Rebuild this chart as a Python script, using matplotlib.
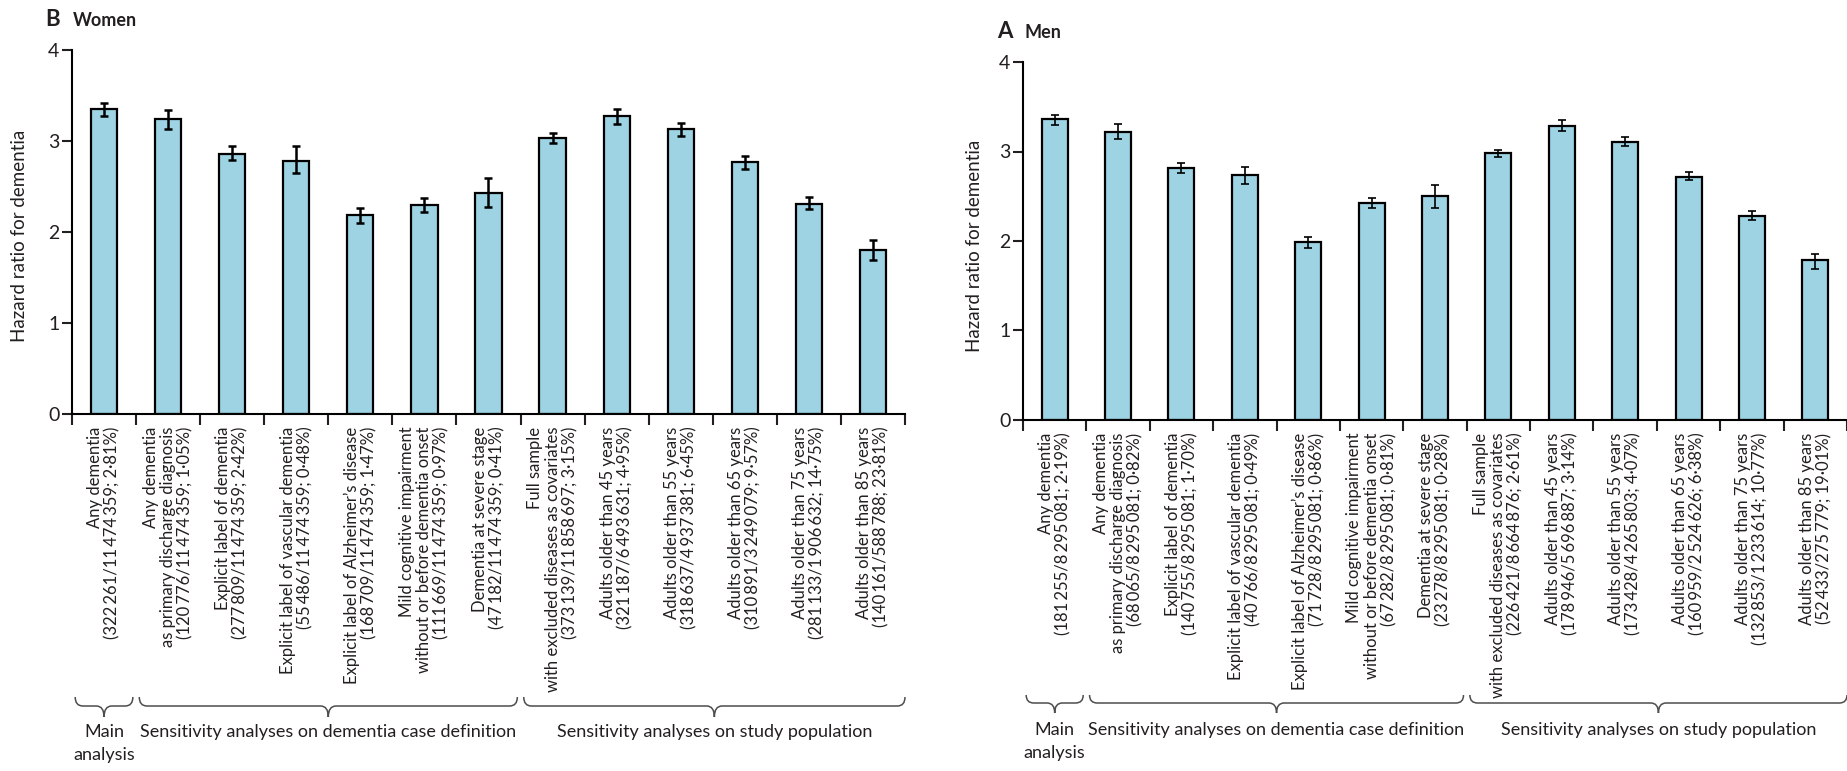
"""
Hazard ratios for dementia by case definition and study population,
women (B) and men (A), with 95% CI error bars and group braces.
"""

import numpy as np
import matplotlib.pyplot as plt
from matplotlib.path import Path
from matplotlib.patches import PathPatch
from matplotlib import transforms

W, H = 1847, 771  # output size in pixels (dpi 100)

TEXT = "#231f20"
BAR = "#9dd3e3"
FONT = ["Lato", "DejaVu Sans"]

plt.rcParams["font.family"] = FONT
plt.rcParams["text.color"] = TEXT
plt.rcParams["axes.labelcolor"] = TEXT
plt.rcParams["xtick.color"] = TEXT
plt.rcParams["ytick.color"] = TEXT

T = "\u2009"  # thin space used as thousands separator

women_labels = [
    f"Any dementia\n(322{T}261/11{T}474{T}359; 2·81%)",
    f"Any dementia\nas primary discharge diagnosis\n(120{T}776/11{T}474{T}359; 1·05%)",
    f"Explicit label of dementia\n(277{T}809/11{T}474{T}359; 2·42%)",
    f"Explicit label of vascular dementia\n(55{T}486/11{T}474{T}359; 0·48%)",
    f"Explicit label of Alzheimer’s disease\n(168{T}709/11{T}474{T}359; 1·47%)",
    f"Mild cognitive impairment\nwithout or before dementia onset\n(111{T}669/11{T}474{T}359; 0·97%)",
    f"Dementia at severe stage\n(47{T}182/11{T}474{T}359; 0·41%)",
    f"Full sample\nwith excluded diseases as covariates\n(373{T}139/11{T}858{T}697; 3·15%)",
    f"Adults older than 45 years\n(321{T}187/6{T}493{T}631; 4·95%)",
    f"Adults older than 55 years\n(318{T}637/4{T}937{T}381; 6·45%)",
    f"Adults older than 65 years\n(310{T}891/3{T}249{T}079; 9·57%)",
    f"Adults older than 75 years\n(281{T}133/1{T}906{T}632; 14·75%)",
    f"Adults older than 85 years\n(140{T}161/588{T}788; 23·81%)",
]
women_hr = [3.35, 3.24, 2.86, 2.78, 2.19, 2.30, 2.43, 3.03, 3.28, 3.13, 2.77, 2.31, 1.80]
women_lo = [3.28, 3.13, 2.79, 2.65, 2.10, 2.22, 2.27, 2.98, 3.19, 3.05, 2.69, 2.25, 1.69]
women_hi = [3.42, 3.34, 2.94, 2.94, 2.26, 2.37, 2.59, 3.09, 3.35, 3.20, 2.84, 2.39, 1.91]

men_labels = [
    f"Any dementia\n(181{T}255/8{T}295{T}081; 2·19%)",
    f"Any dementia\nas primary discharge diagnosis\n(68{T}065/8{T}295{T}081; 0·82%)",
    f"Explicit label of dementia\n(140{T}755/8{T}295{T}081; 1·70%)",
    f"Explicit label of vascular dementia\n(40{T}766/8{T}295{T}081; 0·49%)",
    f"Explicit label of Alzheimer’s disease\n(71{T}728/8{T}295{T}081; 0·86%)",
    f"Mild cognitive impairment\nwithout or before dementia onset\n(67{T}282/8{T}295{T}081; 0·81%)",
    f"Dementia at severe stage\n(23{T}278/8{T}295{T}081; 0·28%)",
    f"Full sample\nwith excluded diseases as covariates\n(226{T}421/8{T}664{T}876; 2·61%)",
    f"Adults older than 45 years\n(178{T}946/5{T}696{T}887; 3·14%)",
    f"Adults older than 55 years\n(173{T}428/4{T}265{T}803; 4·07%)",
    f"Adults older than 65 years\n(160{T}959/2{T}524{T}626; 6·38%)",
    f"Adults older than 75 years\n(132{T}853/1{T}233{T}614; 10·77%)",
    f"Adults older than 85 years\n(52{T}433/275{T}779; 19·01%)",
]
men_hr = [3.36, 3.22, 2.82, 2.74, 1.99, 2.43, 2.50, 2.98, 3.28, 3.11, 2.72, 2.28, 1.79]
men_lo = [3.30, 3.14, 2.76, 2.64, 1.92, 2.37, 2.37, 2.94, 3.23, 3.06, 2.68, 2.23, 1.69]
men_hi = [3.41, 3.31, 2.87, 2.83, 2.05, 2.48, 2.63, 3.02, 3.35, 3.16, 2.77, 2.33, 1.86]

# (first bar, last bar) index ranges for each group brace
groups = [
    ("Main\nanalysis", -0.45, 0.45),
    ("Sensitivity analyses on dementia case definition", 0.55, 6.45),
    ("Sensitivity analyses on study population", 6.55, 12.5),
]


def px_y(y):
    """Pixel row (from top) to figure fraction."""
    return 1 - y / H


def draw_brace(fig, ax, x0, x1, y_top, y_flat, y_tip, r=0.12):
    trans = transforms.blended_transform_factory(ax.transData, fig.transFigure)
    xm = (x0 + x1) / 2
    yt, yf, yp = px_y(y_top), px_y(y_flat), px_y(y_tip)
    verts = [
        (x0, yt), (x0, yf), (x0 + r, yf),
        (xm - r, yf), (xm, yf), (xm, yp),
        (xm, yf), (xm + r, yf),
        (x1 - r, yf), (x1, yf), (x1, yt),
    ]
    codes = [
        Path.MOVETO, Path.CURVE3, Path.CURVE3,
        Path.LINETO, Path.CURVE3, Path.CURVE3,
        Path.CURVE3, Path.CURVE3,
        Path.LINETO, Path.CURVE3, Path.CURVE3,
    ]
    patch = PathPatch(Path(verts, codes), transform=trans, fill=False,
                      edgecolor="#4d4d4d", linewidth=1.1, clip_on=False)
    fig.add_artist(patch)


def draw_panel(fig, rect, labels, hr, lo, hi, err_lw, brace_y):
    ax = fig.add_axes(rect)
    x = np.arange(len(hr))
    hr = np.asarray(hr)
    yerr = [hr - np.asarray(lo), np.asarray(hi) - hr]

    ax.bar(x, hr, width=0.41, color=BAR, edgecolor="black", linewidth=1.6, zorder=2)
    ax.errorbar(x, hr, yerr=yerr, fmt="none", ecolor="black",
                elinewidth=err_lw, capsize=3.2, capthick=err_lw, zorder=3)

    ax.set_xlim(-0.5, 12.5)
    ax.set_ylim(0, 4)
    ax.set_yticks([0, 1, 2, 3, 4])
    ax.tick_params(axis="y", labelsize=14, length=7, width=1.5, pad=2)

    # labels centred under bars, tick marks between them
    ax.set_xticks(x)
    ax.set_xticklabels(labels, rotation=90, ha="center", va="top",
                       multialignment="right", fontsize=12, linespacing=1.1)
    ax.tick_params(axis="x", which="major", length=0, pad=9)
    ax.set_xticks(np.arange(-0.5, 13, 1), minor=True)
    ax.tick_params(axis="x", which="minor", length=8, width=1.5)

    for side in ("top", "right"):
        ax.spines[side].set_visible(False)
    for side in ("left", "bottom"):
        ax.spines[side].set_linewidth(1.5)
    ax.spines["left"].set_bounds(0, 4)

    ax.set_ylabel("Hazard ratio for dementia", fontsize=13.5)

    y_top, y_flat, y_tip, y_text = brace_y
    trans = transforms.blended_transform_factory(ax.transData, fig.transFigure)
    for text, g0, g1 in groups:
        draw_brace(fig, ax, g0, g1, y_top, y_flat, y_tip)
        fig.text((g0 + g1) / 2, px_y(y_text), text, transform=trans,
                 ha="center", va="top", fontsize=13, linespacing=1.55)
    return ax


def main():
    fig = plt.figure(figsize=(W / 100, H / 100), dpi=100)

    # Women, left panel: spine at x=72 px, y from 50 to 414 px
    ax_w = draw_panel(fig, [72 / W, px_y(414), 833 / W, 364 / H],
                      women_labels, women_hr, women_lo, women_hi,
                      err_lw=1.8, brace_y=(697, 706, 717, 724))
    ax_w.yaxis.set_label_coords(-0.053, 0.49)

    # Men, right panel: spine at x=1023 px, y from 62 to 420 px
    ax_m = draw_panel(fig, [1023 / W, px_y(420), 824 / W, 358 / H],
                      men_labels, men_hr, men_lo, men_hi,
                      err_lw=1.2, brace_y=(695, 703, 713, 722))
    ax_m.yaxis.set_label_coords(-0.049, 0.485)

    fig.text(45 / W, px_y(26), "B", fontsize=16, fontweight="bold")
    fig.text(73 / W, px_y(26), "Women", fontsize=13, fontweight="bold")
    fig.text(997 / W, px_y(38), "A", fontsize=16, fontweight="bold")
    fig.text(1025 / W, px_y(38), "Men", fontsize=13, fontweight="bold")

    fig.savefig("out.png", dpi=100, facecolor="white")


if __name__ == "__main__":
    main()
